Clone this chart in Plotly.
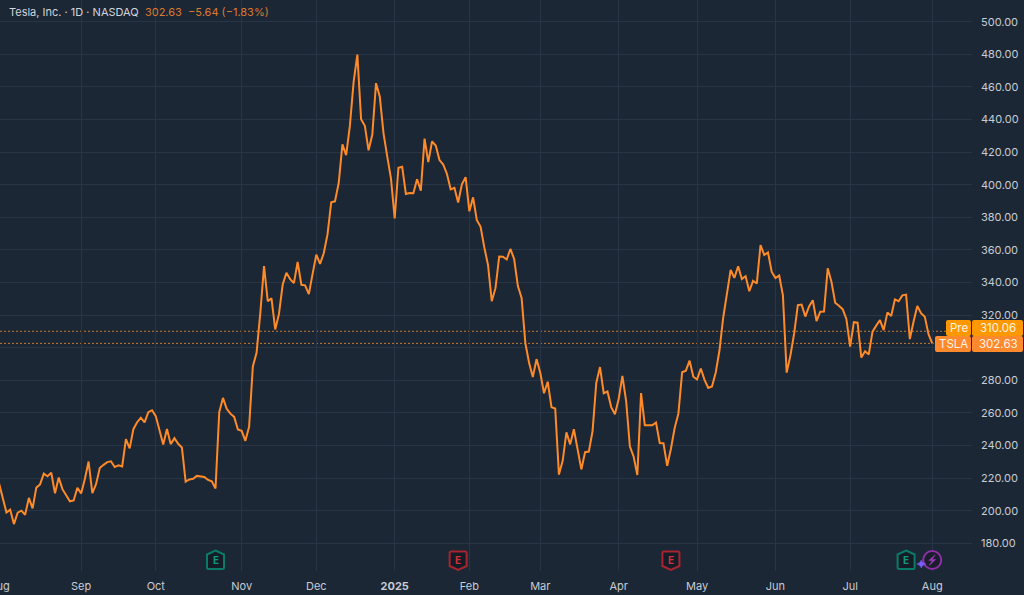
import pandas as pd
import plotly.graph_objects as go

closes = [
216.86,207.67,198.88,200.64,191.76,198.84,200.00,197.49,207.83,201.38,214.14,216.12,222.72,221.10,223.27,210.66,220.32,213.21,209.21,205.75,206.28,214.11,
210.60,219.41,230.17,210.73,216.27,226.17,228.13,229.81,230.29,226.78,227.87,227.20,243.92,238.25,250.00,254.27,257.02,254.22,260.46,261.63,
258.02,249.02,240.66,250.08,240.83,244.50,241.05,238.77,217.80,219.16,219.57,221.33,220.89,220.70,218.85,217.97,213.65,260.48,269.19,262.51,259.52,257.55,249.85,
248.98,242.84,251.44,288.53,296.91,321.22,350.00,328.49,330.24,311.18,320.72,338.74,346.00,342.03,339.64,352.56,338.59,338.23,332.89,345.16,
357.09,351.42,357.93,369.49,389.22,389.79,400.99,424.77,418.10,436.23,463.02,479.86,440.13,436.17,421.06,430.60,462.28,454.13,431.66,417.41,403.84,
379.28,410.44,411.05,394.36,394.94,394.74,403.31,396.36,428.22,413.82,426.50,424.07,415.11,412.38,406.58,397.15,398.09,389.10,400.28,404.60,
383.68,392.21,378.17,374.32,361.62,350.73,328.50,336.51,355.94,355.84,354.11,360.56,354.40,337.80,330.53,302.80,290.80,281.95,292.98,
284.65,272.04,279.10,263.45,262.67,222.15,230.58,248.09,240.68,249.98,238.01,225.31,235.86,236.26,248.71,278.39,288.14,272.06,273.13,263.55,259.16,
268.46,282.76,267.28,239.43,233.29,221.86,272.20,252.40,252.31,252.35,254.11,241.55,241.37,227.50,237.97,250.74,259.51,284.95,285.88,292.03,282.16,
280.52,287.21,280.26,275.35,276.22,284.82,298.26,318.38,334.07,347.68,342.82,349.98,342.09,343.82,334.62,341.04,339.34,362.89,356.90,358.43,346.46,
342.69,344.27,332.05,284.70,295.14,308.58,326.09,326.43,319.11,325.31,329.13,316.35,322.05,322.16,348.68,340.47,327.55,325.78,323.63,317.66,
300.71,315.65,315.35,293.94,297.81,295.88,309.87,313.51,316.90,310.78,321.67,319.41,329.65,328.49,332.11,332.56,305.30,316.06,325.59,321.20,319.04,308.27,
302.63]
market_holidays = ["2024-09-02","2024-11-28","2024-12-25","2025-01-01","2025-01-09","2025-01-20","2025-02-17","2025-04-18","2025-05-26","2025-06-19","2025-07-04"]
month_ticks = ["2024-09-03","2024-10-01","2024-11-01","2024-12-02","2025-01-02","2025-02-03","2025-03-03","2025-04-01","2025-05-01","2025-06-02","2025-07-01","2025-08-01"]
month_labels = ["Sep","Oct","Nov","Dec","<b>2025</b>","Feb","Mar","Apr","May","Jun","Jul","Aug"]
first_month_label = "Aug"
price_ticks = [180,200,220,240,260,280,300,320,340,360,380,400,420,440,460,480,500]
price_tick_hidden = [300]   # covered by the price tags in the reference
earnings_beat = ["2024-10-23","2025-07-23"]
earnings_miss = ["2025-01-29","2025-04-22"]
dividend_event = "2025-08-01"
pre_price = 310.06
last_price = 302.63
last_change = -5.64
last_change_pct = -1.83

sessions = [d.strftime("%Y-%m-%d") for d in pd.bdate_range("2024-08-01", "2025-08-01") if d.strftime("%Y-%m-%d") not in market_holidays]
assert len(sessions) == len(closes), (len(sessions), len(closes))

BG = "#1b2735"; GRID = "#283546"; FONT = "Inter"; LINE = "#ff8a28"; TICK = "#c8ccd4"
PLOT_W = 972; PLOT_H = 571
PRE_TAG = "#ff9800"; LAST_TAG = "#ff8a2e"

fig = go.Figure(go.Scatter(x=sessions, y=closes, mode="lines", line=dict(color=LINE, width=2), hoverinfo="x+y"))

def rrect(x0, x1, y0, y1, r=2):
    return (f"M {x0+r},{y0} L {x1-r},{y0} Q {x1},{y0} {x1},{y0+r} L {x1},{y1-r} Q {x1},{y1} {x1-r},{y1} "
            f"L {x0+r},{y1} Q {x0},{y1} {x0},{y1-r} L {x0},{y0+r} Q {x0},{y0} {x0+r},{y0} Z")

shapes = []
for p in (pre_price, last_price):
    shapes.append(dict(type="line", xref="paper", yref="y", x0=0, x1=1, y0=p, y1=p, layer="below",
                       line=dict(color="#c47a2e", width=1, dash="2px,2px")))
def tag(px0, px1, y_anchor, up, down, color):
    shapes.append(dict(type="path", xref="paper", yref="y", xsizemode="pixel", ysizemode="pixel", xanchor=1, yanchor=y_anchor,
                       path=rrect(px0, px1, down, up), fillcolor=color, line=dict(width=0), layer="above"))
tag(-26, -1, pre_price, 11.3, -4.7, PRE_TAG)
tag(0, 51, pre_price, 11.3, -4.7, PRE_TAG)
tag(-37, -1, last_price, 7.4, -8.6, LAST_TAG)
tag(0, 51, last_price, 7.4, -8.6, LAST_TAG)

ICON_Y = 11 / PLOT_H   # icon centre, in paper units, above the plot bottom
def icon(x, path, fill, stroke, width=1.5):
    shapes.append(dict(type="path", xref="x", yref="paper", xsizemode="pixel", ysizemode="pixel", xanchor=x, yanchor=ICON_Y,
                       path=path, fillcolor=fill, line=dict(color=stroke, width=width), layer="above"))
HOUSE = "M 0,9.5 L 8.5,5.5 L 8.5,-7.5 Q 8.5,-9 7,-9 L -7,-9 Q -8.5,-9 -8.5,-7.5 L -8.5,5.5 Z"
SHIELD = "M -7,8.5 L 7,8.5 Q 8.5,8.5 8.5,7 L 8.5,-6 L 0,-10 L -8.5,-6 L -8.5,7 Q -8.5,8.5 -7,8.5 Z"
ann = []
def e_label(x, color):
    ann.append(dict(text="<b>E</b>", x=x, y=ICON_Y, xref="x", yref="paper", xanchor="center", yanchor="middle", showarrow=False,
                    font=dict(family=FONT, size=10, color=color)))
for d in earnings_beat:
    icon(d, HOUSE, "#131c27", "#0b7a66", 2); e_label(d, "#0f9a80")
for d in earnings_miss:
    icon(d, SHIELD, "#131c27", "#a8242f", 2); e_label(d, "#d32f3a")
K = 5
CIRCLE = (f"M -9,0 C -9,{K} {-K},9 0,9 C {K},9 9,{K} 9,0 C 9,{-K} {K},-9 0,-9 C {-K},-9 -9,{-K} -9,0 Z")
BOLT = "M 3,5.5 L -3.5,-0.5 L 0,-0.5 L -3,-5.5 L 3.5,0.5 L 0,0.5 Z"
STAR = "M -11,0 Q -10.2,-3.2 -6.5,-4 Q -10.2,-4.8 -11,-8 Q -11.8,-4.8 -15.5,-4 Q -11.8,-3.2 -11,0 Z"
icon(dividend_event, CIRCLE, "#1a1d2c", "#8e2fa8", 2)
icon(dividend_event, BOLT, "#9c3bb8", "#9c3bb8", 0.5)
icon(dividend_event, STAR, "#7c5cff", "#7c5cff", 0.5)

sign = "\u2212" if last_change < 0 else "+"
ann.append(dict(text=(f"<span style='color:#d1d4dc'>Tesla, Inc. \u00b7 1D \u00b7 NASDAQ</span>"
                      f"  {last_price:.2f}  {sign}{abs(last_change):.2f} ({sign}{abs(last_change_pct):.2f}%)"),
                xref="paper", yref="paper", x=7/PLOT_W, y=1-12/PLOT_H, xanchor="left", yanchor="middle", showarrow=False,
                font=dict(family=FONT, size=11, color="#dd7a2c")))
ann.append(dict(text=first_month_label, xref="paper", yref="paper", x=-1/PLOT_W, y=-15/PLOT_H, xanchor="center", yanchor="middle",
                showarrow=False, font=dict(family=FONT, size=11, color=TICK)))
def tag_text(txt, px, val, shift):
    ann.append(dict(text=txt, xref="paper", yref="y", x=1+px/PLOT_W, y=val, yshift=shift, xanchor="center", yanchor="middle", showarrow=False,
                    font=dict(family=FONT, size=11.5, color="#fff3e3")))
tag_text("Pre", -13.5, pre_price, 3.3)
tag_text(f"{pre_price:.2f}", 26, pre_price, 3.3)
tag_text("TSLA", -19, last_price, -0.6)
tag_text(f"{last_price:.2f}", 26, last_price, -0.6)

fig.update_layout(
    width=1024, height=595, margin=dict(l=0, r=52, t=0, b=24, pad=0), showlegend=False,
    paper_bgcolor=BG, plot_bgcolor=BG, shapes=shapes, annotations=ann,
    font=dict(family=FONT, size=11, color=TICK),
    xaxis=dict(type="category", categoryorder="array", categoryarray=sessions, range=[0.27, 0.27+972/3.733],
               tickmode="array", tickvals=month_ticks, ticktext=month_labels, showgrid=True, gridcolor=GRID, gridwidth=1,
               showline=False, zeroline=False, ticks="", tickangle=0, ticklabelstandoff=7),
    yaxis=dict(side="right", range=[163.0, 513.3], tickmode="array", tickvals=price_ticks,
               ticktext=["" if v in price_tick_hidden else f"{v:.2f}" for v in price_ticks], showgrid=True, gridcolor=GRID, gridwidth=1,
               showline=False, zeroline=False, ticks="", ticklabelstandoff=8),
)
fig.write_html("out.html", config=dict(displayModeBar=False),
               post_script="document.body.style.margin='0';document.body.style.overflow='hidden';")
